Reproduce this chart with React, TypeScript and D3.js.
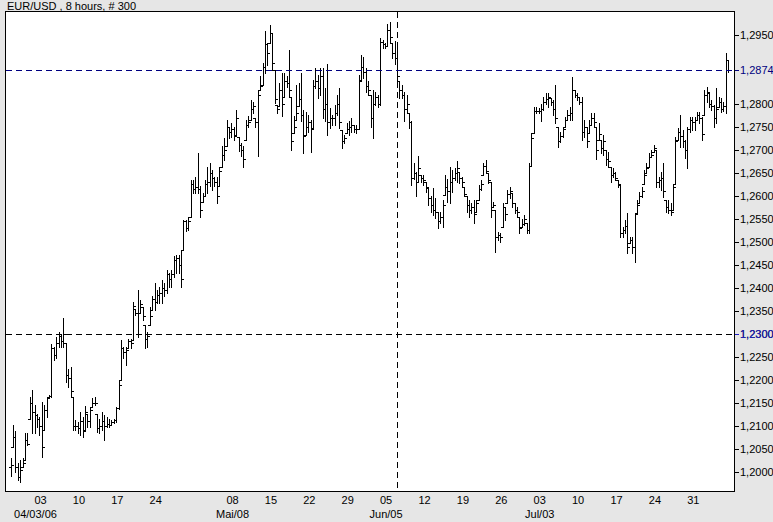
import React from 'react';
import * as d3 from 'd3';

const W = 773;
const H = 522;
const title = 'EUR/USD , 8 hours, # 300';

// prices in pips above 1.0000 (e.g. 2015 -> 1.2015)
const highs = [
  2030, 2102, 2090, 2019, 2026, 2030, 2084, 2084, 2164, 2178,
  2145, 2127, 2120, 2153, 2145, 2164, 2167, 2279, 2272, 2294,
  2305, 2301, 2334, 2280, 2225, 2229, 2164, 2113, 2109, 2131,
  2120, 2143, 2127, 2142, 2160, 2164, 2127, 2116, 2131, 2124,
  2120, 2116, 2113, 2116, 2142, 2200, 2287, 2272, 2272, 2290,
  2290, 2370, 2355, 2395, 2374, 2359, 2319, 2305, 2359, 2382,
  2411, 2396, 2403, 2418, 2411, 2440, 2432, 2440, 2469, 2472,
  2472, 2483, 2548, 2548, 2555, 2635, 2635, 2642, 2693, 2621,
  2606, 2635, 2664, 2671, 2657, 2642, 2642, 2664, 2708, 2726,
  2766, 2751, 2758, 2751, 2787, 2729, 2715, 2708, 2766, 2773,
  2809, 2805, 2769, 2831, 2860, 2889, 2958, 2932, 2972, 2954,
  2874, 2798, 2845, 2867, 2867, 2860, 2918, 2816, 2773, 2842,
  2845, 2867, 2787, 2783, 2776, 2765, 2852, 2878, 2863, 2878,
  2878, 2834, 2888, 2791, 2776, 2798, 2820, 2834, 2743, 2733,
  2758, 2762, 2769, 2754, 2754, 2863, 2907, 2903, 2878, 2849,
  2820, 2830, 2827, 2820, 2943, 2939, 2932, 2975, 2979, 2932,
  2936, 2921, 2849, 2841, 2827, 2820, 2780, 2762, 2671, 2653,
  2686, 2646, 2646, 2631, 2617, 2599, 2617, 2595, 2566, 2566,
  2591, 2646, 2638, 2664, 2657, 2660, 2675, 2653, 2642, 2620,
  2599, 2591, 2584, 2591, 2591, 2624, 2635, 2671, 2678, 2649,
  2630, 2588, 2570, 2522, 2519, 2584, 2577, 2613, 2620, 2606,
  2584, 2577, 2555, 2551, 2559, 2541, 2671, 2736, 2794, 2794,
  2791, 2801, 2816, 2823, 2823, 2812, 2809, 2841, 2751, 2740,
  2751, 2772, 2787, 2794, 2859, 2830, 2823, 2816, 2816, 2765,
  2751, 2765, 2780, 2780, 2750, 2758, 2722, 2733, 2700, 2696,
  2664, 2660, 2653, 2635, 2624, 2533, 2548, 2562, 2511, 2511,
  2562, 2591, 2609, 2620, 2656, 2671, 2693, 2700, 2711, 2700,
  2642, 2653, 2671, 2591, 2591, 2584, 2627, 2729, 2747, 2776,
  2743, 2722, 2751, 2772, 2772, 2772, 2783, 2783, 2772, 2830,
  2838, 2823, 2809, 2798, 2834, 2816, 2812, 2805, 2910, 2895,
];

const lows = [
  1991, 2055, 2000, 1982, 1979, 2011, 2026, 2058, 2116, 2084,
  2084, 2098, 2080, 2033, 2091, 2120, 2163, 2163, 2243, 2247,
  2272, 2272, 2272, 2196, 2185, 2164, 2091, 2091, 2084, 2080,
  2077, 2091, 2098, 2098, 2142, 2145, 2087, 2084, 2091, 2069,
  2098, 2098, 2102, 2106, 2109, 2138, 2200, 2247, 2232, 2269,
  2269, 2287, 2341, 2294, 2345, 2330, 2269, 2272, 2319, 2353,
  2353, 2367, 2367, 2367, 2382, 2389, 2403, 2403, 2425, 2432,
  2432, 2403, 2483, 2523, 2527, 2555, 2606, 2606, 2606, 2555,
  2588, 2599, 2606, 2621, 2613, 2621, 2584, 2621, 2664, 2679,
  2708, 2726, 2729, 2722, 2733, 2697, 2686, 2664, 2722, 2751,
  2766, 2780, 2751, 2686, 2831, 2842, 2867, 2885, 2932, 2874,
  2802, 2780, 2795, 2773, 2816, 2838, 2816, 2700, 2737, 2766,
  2795, 2762, 2693, 2733, 2740, 2696, 2747, 2834, 2812, 2820,
  2769, 2762, 2733, 2747, 2754, 2754, 2776, 2747, 2704, 2715,
  2736, 2733, 2740, 2740, 2736, 2745, 2852, 2856, 2827, 2820,
  2751, 2725, 2798, 2794, 2798, 2921, 2921, 2925, 2932, 2899,
  2888, 2849, 2812, 2812, 2762, 2783, 2747, 2624, 2638, 2599,
  2631, 2631, 2624, 2609, 2581, 2566, 2559, 2552, 2530, 2541,
  2533, 2602, 2588, 2584, 2609, 2635, 2631, 2628, 2620, 2599,
  2566, 2555, 2562, 2541, 2566, 2591, 2613, 2646, 2649, 2628,
  2555, 2577, 2479, 2504, 2501, 2533, 2548, 2584, 2595, 2577,
  2562, 2555, 2519, 2533, 2537, 2519, 2519, 2665, 2736, 2780,
  2780, 2762, 2787, 2801, 2794, 2798, 2776, 2758, 2707, 2718,
  2729, 2751, 2765, 2765, 2765, 2816, 2809, 2801, 2722, 2729,
  2707, 2736, 2754, 2751, 2680, 2722, 2693, 2689, 2667, 2664,
  2631, 2642, 2635, 2620, 2511, 2511, 2519, 2475, 2497, 2475,
  2457, 2562, 2584, 2598, 2627, 2649, 2664, 2685, 2696, 2620,
  2620, 2613, 2598, 2566, 2562, 2559, 2569, 2627, 2722, 2707,
  2707, 2682, 2660, 2740, 2743, 2743, 2765, 2758, 2722, 2776,
  2805, 2794, 2787, 2751, 2758, 2794, 2783, 2785, 2780, 2870,
];

const closes = [
  2015, 2075, 2010, 1990, 2005, 2020, 2070, 2060, 2150, 2130,
  2125, 2115, 2100, 2055, 2135, 2160, 2165, 2270, 2255, 2280,
  2295, 2285, 2300, 2210, 2205, 2175, 2100, 2100, 2095, 2110,
  2090, 2130, 2110, 2135, 2150, 2150, 2095, 2100, 2110, 2100,
  2105, 2102, 2108, 2112, 2140, 2190, 2270, 2260, 2265, 2285,
  2280, 2360, 2345, 2300, 2365, 2340, 2290, 2295, 2340, 2375,
  2370, 2385, 2390, 2400, 2395, 2430, 2420, 2430, 2460, 2465,
  2450, 2420, 2545, 2530, 2545, 2625, 2615, 2620, 2615, 2570,
  2600, 2625, 2630, 2650, 2640, 2630, 2600, 2655, 2690, 2700,
  2750, 2740, 2745, 2730, 2770, 2710, 2700, 2680, 2755, 2760,
  2790, 2795, 2760, 2820, 2840, 2880, 2930, 2910, 2955, 2890,
  2810, 2790, 2830, 2800, 2850, 2845, 2830, 2720, 2750, 2780,
  2810, 2775, 2730, 2750, 2760, 2745, 2840, 2850, 2835, 2860,
  2790, 2800, 2760, 2770, 2770, 2780, 2800, 2760, 2720, 2725,
  2745, 2750, 2755, 2745, 2745, 2850, 2880, 2870, 2840, 2830,
  2770, 2800, 2815, 2800, 2935, 2930, 2925, 2960, 2945, 2910,
  2900, 2860, 2830, 2820, 2790, 2800, 2760, 2640, 2650, 2630,
  2660, 2640, 2635, 2620, 2595, 2580, 2570, 2565, 2545, 2555,
  2580, 2620, 2610, 2630, 2640, 2650, 2660, 2640, 2630, 2605,
  2580, 2570, 2575, 2560, 2585, 2615, 2625, 2665, 2655, 2635,
  2570, 2580, 2510, 2515, 2510, 2575, 2560, 2605, 2610, 2585,
  2570, 2565, 2530, 2540, 2550, 2525, 2665, 2725, 2785, 2785,
  2785, 2790, 2805, 2810, 2815, 2805, 2790, 2770, 2720, 2730,
  2745, 2765, 2775, 2780, 2830, 2820, 2815, 2805, 2740, 2750,
  2720, 2755, 2770, 2760, 2700, 2735, 2705, 2720, 2680, 2675,
  2645, 2650, 2640, 2625, 2520, 2525, 2535, 2490, 2505, 2490,
  2560, 2580, 2600, 2610, 2645, 2660, 2685, 2690, 2705, 2630,
  2635, 2640, 2610, 2575, 2570, 2565, 2620, 2720, 2740, 2730,
  2720, 2700, 2745, 2765, 2760, 2765, 2775, 2770, 2735, 2820,
  2825, 2800, 2795, 2770, 2790, 2805, 2790, 2795, 2895, 2874,
];
const firstOpen = 2010;

const yTickValues = [
  1.2, 1.205, 1.21, 1.215, 1.22, 1.225, 1.23, 1.235, 1.24, 1.245,
  1.25, 1.255, 1.26, 1.265, 1.27, 1.275, 1.28, 1.295,
];
const lastPrice = 1.2874;
const crossPrice = 1.23;
const crossBar = 161;

const dayLabels = ['03', '10', '17', '24', '08', '15', '22', '29', '05', '12', '19', '26', '03', '10', '17', '24', '31'];
const dayPositions = [12.5, 28.5, 44.5, 60.5, 92.5, 108.5, 124.5, 140.5, 156.5, 172.5, 188.5, 204.5, 220.5, 236.5, 252.5, 268.5, 284.5];
const monthLabels = ['04/03/06', 'Mai/08', 'Jun/05', 'Jul/03'];
const monthPositions = [12.5, 92.5, 156.5, 220.5];

const FONT = '"Liberation Sans", Arial, sans-serif';

export default function App() {
  const plot = { left: 5.5, top: 11.5, right: 734.5, bottom: 491.5 };
  const x = d3.scaleLinear().domain([0, 299]).range([10.5, 10.5 + 299 * 2.4]);
  const y = d3.scaleLinear().domain([1.2, 1.295]).range([472, 35]);
  const p = (v: number) => 1 + v / 10000;
  const fmt = (v: number) => d3.format('.4f')(v).replace('.', ',');
  const snap = (v: number) => Math.round(v) + 0.5;

  const bars = closes.map((c, i) => {
    const hi = p(highs[i]);
    const lo = p(lows[i]);
    const prev = i === 0 ? p(firstOpen) : p(closes[i - 1]);
    const op = Math.min(hi, Math.max(lo, prev));
    const xi = snap(x(i));
    return { xi, yh: y(hi), yl: y(lo), yo: snap(y(op)), yc: snap(y(p(c))) };
  });

  const yLast = snap(y(lastPrice));
  const yCross = snap(y(crossPrice));
  const xCross = snap(x(crossBar));

  return (
    <svg width={W} height={H} style={{ position: 'fixed', left: 0, top: 0, display: 'block' }} fontFamily={FONT}>
      <rect x={0} y={0} width={W} height={H} fill="#e6e6e6" />
      <rect x={plot.left} y={plot.top} width={plot.right - plot.left} height={plot.bottom - plot.top} fill="#ffffff" stroke="none" />
      <text x={7} y={9.5} fontSize={11} fill="#000">{title}</text>

      {/* bars */}
      <g stroke="#000" strokeWidth={1} shapeRendering="crispEdges">
        {bars.map((b, i) => (
          <g key={i}>
            <line x1={b.xi} x2={b.xi} y1={Math.round(b.yh)} y2={Math.round(b.yl) + 1} />
            <line x1={b.xi - 2.5} x2={b.xi} y1={b.yo} y2={b.yo} />
            <line x1={b.xi} x2={b.xi + 2.5} y1={b.yc} y2={b.yc} />
          </g>
        ))}
      </g>

      {/* crosshair and last price lines */}
      <line x1={plot.left} x2={plot.right} y1={yLast} y2={yLast} stroke="#000080" strokeDasharray="6,4" shapeRendering="crispEdges" />
      <line x1={plot.left} x2={plot.right} y1={yCross} y2={yCross} stroke="#000" strokeDasharray="6,4" shapeRendering="crispEdges" />
      <line x1={xCross} x2={xCross} y1={plot.top} y2={plot.bottom} stroke="#000" strokeDasharray="6,4" shapeRendering="crispEdges" />

      <rect x={plot.left} y={plot.top} width={plot.right - plot.left} height={plot.bottom - plot.top} fill="none" stroke="#000" shapeRendering="crispEdges" />

      {/* y axis */}
      <g fontSize={11}>
        {yTickValues.map((v) => (
          <g key={v}>
            <line x1={plot.right} x2={plot.right + 4} y1={snap(y(v))} y2={snap(y(v))} stroke="#000" shapeRendering="crispEdges" />
            <text x={740} y={y(v) + 4} fill="#000">{fmt(v)}</text>
          </g>
        ))}
        <line x1={plot.right} x2={plot.right + 4} y1={yLast} y2={yLast} stroke="#000080" shapeRendering="crispEdges" />
        <text x={740} y={y(lastPrice) + 4} fill="#000080">{fmt(lastPrice)}</text>
        <line x1={plot.right} x2={plot.right + 4} y1={yCross} y2={yCross} stroke="#2020c0" shapeRendering="crispEdges" />
        <text x={740} y={y(crossPrice) + 4} fill="#2020c0">{fmt(crossPrice)}</text>
      </g>

      {/* x axis */}
      <g fontSize={11} fill="#000" textAnchor="middle">
        {dayLabels.map((d, i) => (
          <text key={i} x={x(dayPositions[i])} y={504}>{d}</text>
        ))}
        {monthLabels.map((m, i) => (
          <text key={m} x={x(monthPositions[i]) - (i === 0 ? 5 : 0)} y={518}>{m}</text>
        ))}
      </g>
    </svg>
  );
}
